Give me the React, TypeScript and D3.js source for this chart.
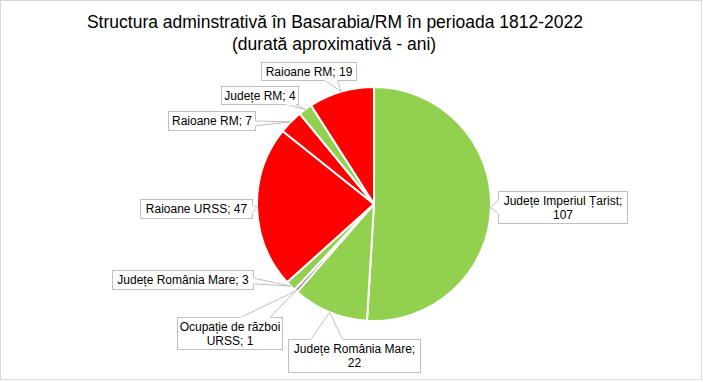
import React from "react";
import * as d3 from "d3";

const categories = [
  "Județe Imperiul Țarist",
  "Județe România Mare",
  "Ocupație de război URSS",
  "Județe România Mare",
  "Raioane URSS",
  "Raioane RM",
  "Județe RM",
  "Raioane RM",
];
const values = [107, 22, 1, 3, 47, 7, 4, 19];
const sliceColors = ["#92D050", "#92D050", "#7F7F7F", "#92D050", "#FF0000", "#FF0000", "#92D050", "#FF0000"];
const labelLines = [
  ["Județe Imperiul Țarist;", "107"],
  ["Județe România Mare;", "22"],
  ["Ocupație de război", "URSS; 1"],
  ["Județe România Mare; 3"],
  ["Raioane URSS; 47"],
  ["Raioane RM; 7"],
  ["Județe RM;  4"],
  ["Raioane RM; 19"],
];
const titleLines = ["Structura adminstrativă în Basarabia/RM în perioada 1812-2022", "(durată aproximativă - ani)"];

// layout of callout boxes (x, y, w, h), side the pointer leaves from, and base range along that side
const labelLayout = [
  { x: 498, y: 191, w: 129, h: 32, side: "left", a: 0.25, b: 0.7 },
  { x: 288, y: 339, w: 132, h: 33, side: "top", a: 0.17, b: 0.41 },
  { x: 177, y: 317, w: 105, h: 32, side: "top", a: 0.6, b: 0.88 },
  { x: 112, y: 270, w: 141, h: 19, side: "right", a: 0.4, b: 0.7 },
  { x: 140, y: 199, w: 112, h: 19, side: "right", a: 0.3, b: 0.7 },
  { x: 168, y: 111, w: 87, h: 19, side: "right", a: 0.5, b: 0.75 },
  { x: 221, y: 86, w: 77, h: 18, side: "bottom", a: 0.85, b: 0.97 },
  { x: 261, y: 62, w: 95, h: 18, side: "bottom", a: 0.67, b: 0.8 },
];

const W = 703;
const H = 382;
const cx = 374;
const cy = 204;
const R = 117;
const FONT = "'Liberation Sans', Arial, sans-serif";

export default function App() {
  const pie = d3.pie<number>().sort(null).value((d) => d)(values);
  const arc = d3.arc<d3.PieArcDatum<number>>().innerRadius(0).outerRadius(R);

  return (
    <svg width={W} height={H} style={{ position: "absolute", left: 0, top: 0 }}>
      <rect x={0.5} y={0.5} width={701} height={379} fill="#fff" stroke="#D9D9D9" />
      <g fontFamily={FONT} textAnchor="middle" fill="#000">
        <text x={335} y={28} fontSize={17.5}>{titleLines[0]}</text>
        <text x={334} y={50} fontSize={17.5}>{titleLines[1]}</text>
      </g>
      <g transform={`translate(${cx},${cy})`}>
        {pie.map((p, i) => (
          <path key={i} d={arc(p) || ""} fill={sliceColors[i]} stroke="#fff" strokeWidth={2} strokeLinejoin="round" />
        ))}
      </g>
      {pie.map((p, i) => {
        const L = labelLayout[i];
        const mid = (p.startAngle + p.endAngle) / 2;
        const tx = cx + R * Math.sin(mid);
        const ty = cy - R * Math.cos(mid);
        let b1: [number, number];
        let b2: [number, number];
        if (L.side === "left") {
          b1 = [L.x, L.y + L.h * L.a];
          b2 = [L.x, L.y + L.h * L.b];
        } else if (L.side === "right") {
          b1 = [L.x + L.w, L.y + L.h * L.a];
          b2 = [L.x + L.w, L.y + L.h * L.b];
        } else if (L.side === "top") {
          b1 = [L.x + L.w * L.a, L.y];
          b2 = [L.x + L.w * L.b, L.y];
        } else {
          b1 = [L.x + L.w * L.a, L.y + L.h];
          b2 = [L.x + L.w * L.b, L.y + L.h];
        }
        const lines = labelLines[i];
        const lh = 14;
        const y0 = L.y + L.h / 2 - ((lines.length - 1) * lh) / 2 + 4.5;
        return (
          <g key={"l" + i}>
            <rect x={L.x + 0.5} y={L.y + 0.5} width={L.w} height={L.h} fill="#fff" stroke="#BFBFBF" />
            <polygon
              points={`${b1[0] + 0.5},${b1[1] + 0.5} ${tx},${ty} ${b2[0] + 0.5},${b2[1] + 0.5}`}
              fill="#fff"
              stroke="#BFBFBF"
            />
            <line x1={b1[0] + 0.5} y1={b1[1] + 0.5} x2={b2[0] + 0.5} y2={b2[1] + 0.5} stroke="#fff" strokeWidth={1.5} />
            {lines.map((t, j) => (
              <text key={j} x={L.x + L.w / 2 + 0.5} y={y0 + j * lh} fontFamily={FONT} fontSize={12} textAnchor="middle" fill="#000">
                {t}
              </text>
            ))}
          </g>
        );
      })}
    </svg>
  );
}
